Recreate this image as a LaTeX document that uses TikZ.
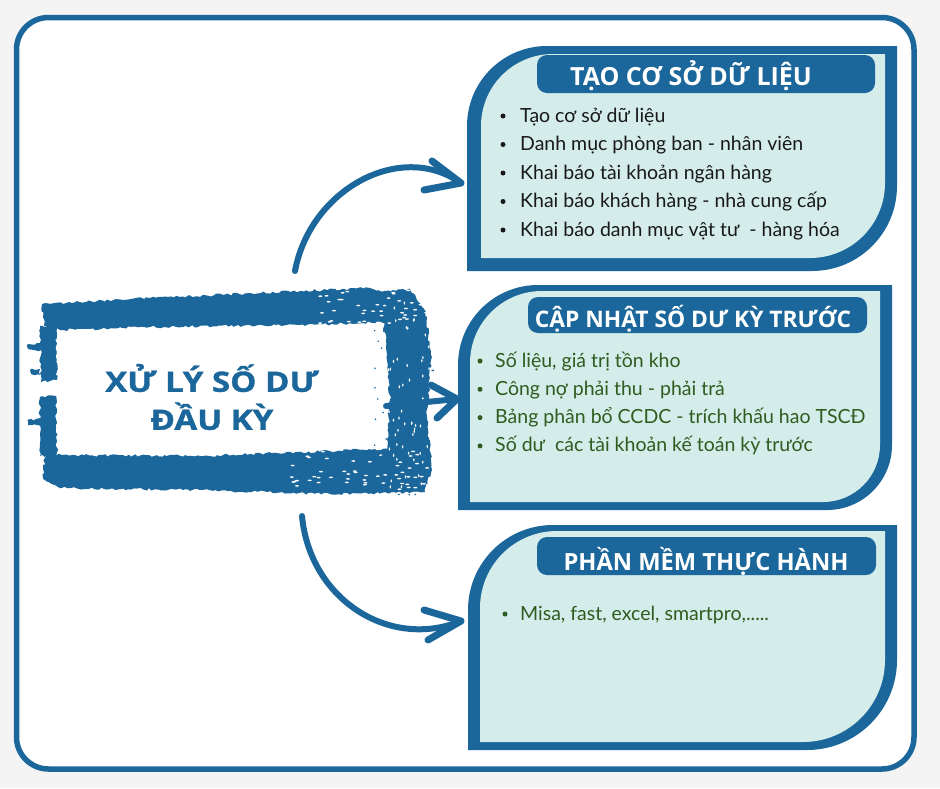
\documentclass[tikz,border=0pt]{standalone}
\usepackage{fontspec}
\usetikzlibrary{decorations.pathmorphing}
\setmainfont{Lato}
\newfontfamily\titlefont{Open Sans}
\newfontfamily\ctrfont[FakeStretch=1.18,FakeBold=1.2]{Open Sans}
\definecolor{dkblue}{HTML}{1B679B}
\definecolor{ltfill}{HTML}{D4ECEA}
\definecolor{dkgreen}{HTML}{2F5C1F}
\definecolor{bggray}{HTML}{F4F4F4}
\begin{document}
\begin{tikzpicture}[x=1pt,y=-1pt,
  boxouter/.style={fill=dkblue},
  boxinner/.style={fill=ltfill},
  pill/.style={fill=dkblue, rounded corners=10pt, inner sep=0pt},
  titletext/.style={text=white, anchor=base, inner sep=0pt, font=\titlefont\bfseries\fontsize{#1}{30}\selectfont},
  item/.style={anchor=base west, inner sep=0pt, font=\fontsize{19.5}{23}\selectfont},
  bulletdot/.style={circle, inner sep=0pt, minimum size=5pt},
  shaft/.style={draw=dkblue, line width=6pt, line cap=round},
  headline/.style={draw=dkblue, line width=7pt, line cap=round, line join=round},
  brush/.style={fill=dkblue, decorate, decoration={random steps, segment length=3pt, amplitude=1.3pt}}
]
\useasboundingbox (0,0) rectangle (940,788);
\fill[bggray] (0,0) rectangle (940,788);
\draw[dkblue, line width=5.5pt, fill=white, rounded corners=32pt] (16.5,17.5) rectangle (914,769);

% ---------- central brush frame ----------
\pgfmathsetseed{4242}
\fill[brush] (42,304) -- (150,298) -- (300,291) -- (370,288) -- (398,295) -- (392,322) -- (300,325) -- (150,327) -- (60,330) -- (44,326) -- cycle;
\fill[brush] (378,292) -- (410,289) -- (426,312) -- (431,360) -- (427,420) -- (432,470) -- (424,491) -- (392,492) -- (386,460) -- (390,400) -- (386,340) -- (382,312) -- cycle;
\fill[brush] (45,455) -- (200,456) -- (330,451) -- (410,448) -- (428,465) -- (425,492) -- (330,494) -- (200,490) -- (60,488) -- (43,478) -- cycle;
\fill[brush] (40,326) -- (56,326) -- (57,380) -- (41,382) -- cycle;
\fill[brush] (40,397) -- (56,396) -- (57,456) -- (40,456) -- cycle;
\fill[brush] (28,344) -- (41,343) -- (41,350) -- (28,349) -- cycle;
\fill[brush] (27,420) -- (41,419) -- (41,426) -- (28,425) -- cycle;
\fill[brush] (30,370) -- (40,369) -- (40,375) -- (31,374) -- cycle;
\foreach \k in {1,...,45}{
  \pgfmathsetmacro{\px}{320+110*rnd}
  \pgfmathsetmacro{\py}{289+38*rnd}
  \fill[white] (\px,\py) ellipse[x radius=2pt, y radius=0.8pt];
}
\foreach \k in {1,...,55}{
  \pgfmathsetmacro{\px}{290+140*rnd}
  \pgfmathsetmacro{\py}{449+44*rnd}
  \fill[white] (\px,\py) ellipse[x radius=2pt, y radius=0.8pt];
}
\foreach \k in {1,...,60}{
  \pgfmathsetmacro{\px}{388+42*rnd}
  \pgfmathsetmacro{\py}{300+190*rnd}
  \fill[white] (\px,\py) ellipse[x radius=0.8pt, y radius=1.8pt];
}
\foreach \k in {1,...,70}{
  \pgfmathsetmacro{\px}{372+62*rnd}
  \pgfmathsetmacro{\py}{290+205*rnd}
  \fill[dkblue] (\px,\py) circle[radius=0.9pt];
}
\node[text=dkblue, align=center, inner sep=0pt, font=\ctrfont\bfseries\fontsize{28}{38}\selectfont] (ctr) at (212,397) {XỬ LÝ SỐ DƯ\\ĐẦU KỲ};

% ---------- box 1 ----------
\fill[boxouter] (467,271) -- (467,126) arc[start angle=180,end angle=270,radius=80] -- (897,46) -- (897,186) arc[start angle=0,end angle=90,radius=85] -- cycle;
\fill[boxinner] (481,258) -- (481,126) arc[start angle=180,end angle=270,radius=72] -- (885,54) -- (885,183) arc[start angle=0,end angle=90,radius=75] -- cycle;
\coordinate (b1) at (467,158);
\node[pill, minimum width=338pt, minimum height=38pt] (p1) at (706,74) {};
\node[titletext=25] at (691,85) {TẠO CƠ SỞ DỮ LIỆU};
\foreach \t [count=\i] in {Tạo cơ sở dữ liệu, Danh mục phòng ban - nhân viên, Khai báo tài khoản ngân hàng, Khai báo khách hàng - nhà cung cấp, Khai báo danh mục vật tư\ \ - hàng hóa}{
  \pgfmathsetmacro{\yy}{122+28.5*(\i-1)}
  \node[bulletdot, fill=black!90] at (503,\yy-6) {};
  \node[item, text=black!90] at (520,\yy) {\t};
}

% ---------- box 2 ----------
\fill[boxouter] (458,510) -- (458,365) arc[start angle=180,end angle=270,radius=80] -- (892,285) -- (892,445) arc[start angle=0,end angle=90,radius=65] -- cycle;
\fill[boxinner] (470,502) -- (470,363) arc[start angle=180,end angle=270,radius=72] -- (880,291) -- (880,445) arc[start angle=0,end angle=90,radius=57] -- cycle;
\coordinate (b2) at (458,398);
\node[pill, minimum width=339pt, minimum height=36pt] (p2) at (697.5,315) {};
\node[titletext=22.8] at (693,327) {CẬP NHẬT SỐ DƯ KỲ TRƯỚC};
\foreach \t [count=\i] in {{Số liệu, giá trị tồn kho}, Công nợ phải thu - phải trả, Bảng phân bổ CCDC - trích khấu hao TSCĐ, Số dư\ \ các tài khoản kế toán kỳ trước}{
  \pgfmathsetmacro{\yy}{367+28.3*(\i-1)}
  \node[bulletdot, fill=dkgreen] at (480,\yy-6) {};
  \node[item, text=dkgreen] at (495,\yy) {\t};
}

% ---------- box 3 ----------
\fill[boxouter] (468,750) -- (468,610) arc[start angle=180,end angle=270,radius=85] -- (897,525) -- (897,660) arc[start angle=0,end angle=90,radius=90] -- cycle;
\fill[boxinner] (480,742) -- (480,608) arc[start angle=180,end angle=270,radius=77] -- (885,531) -- (885,660) arc[start angle=0,end angle=90,radius=82] -- cycle;
\coordinate (b3) at (468,638);
\node[pill, minimum width=339pt, minimum height=38pt] (p3) at (706.5,556) {};
\node[titletext=23.7] at (706,570) {PHẦN MỀM THỰC HÀNH};
\node[bulletdot, fill=dkgreen] at (505,614) {};
\node[item, text=dkgreen] at (520,620) {Misa, fast, excel, smartpro,.....};

% ---------- connectors ----------
\coordinate (s1) at (295,271);
\coordinate (t1) at (461,183);
\coordinate (s2) at (386,406);
\coordinate (t2) at (457,399);
\coordinate (s3) at (302,516);
\coordinate (t3) at (461,621);
\draw[shaft] (s1) .. controls (310,190) and (400,140) .. (t1);
\draw[headline] (432,161) -- (t1) -- (424,190);
\draw[shaft] (s2) -- (t2);
\draw[headline] (431,385) -- (t2) -- (437,418);
\draw[shaft] (s3) .. controls (310,600) and (390,650) .. (t3);
\draw[headline] (424,610) -- (t3) -- (428,640);
\end{tikzpicture}
\end{document}
